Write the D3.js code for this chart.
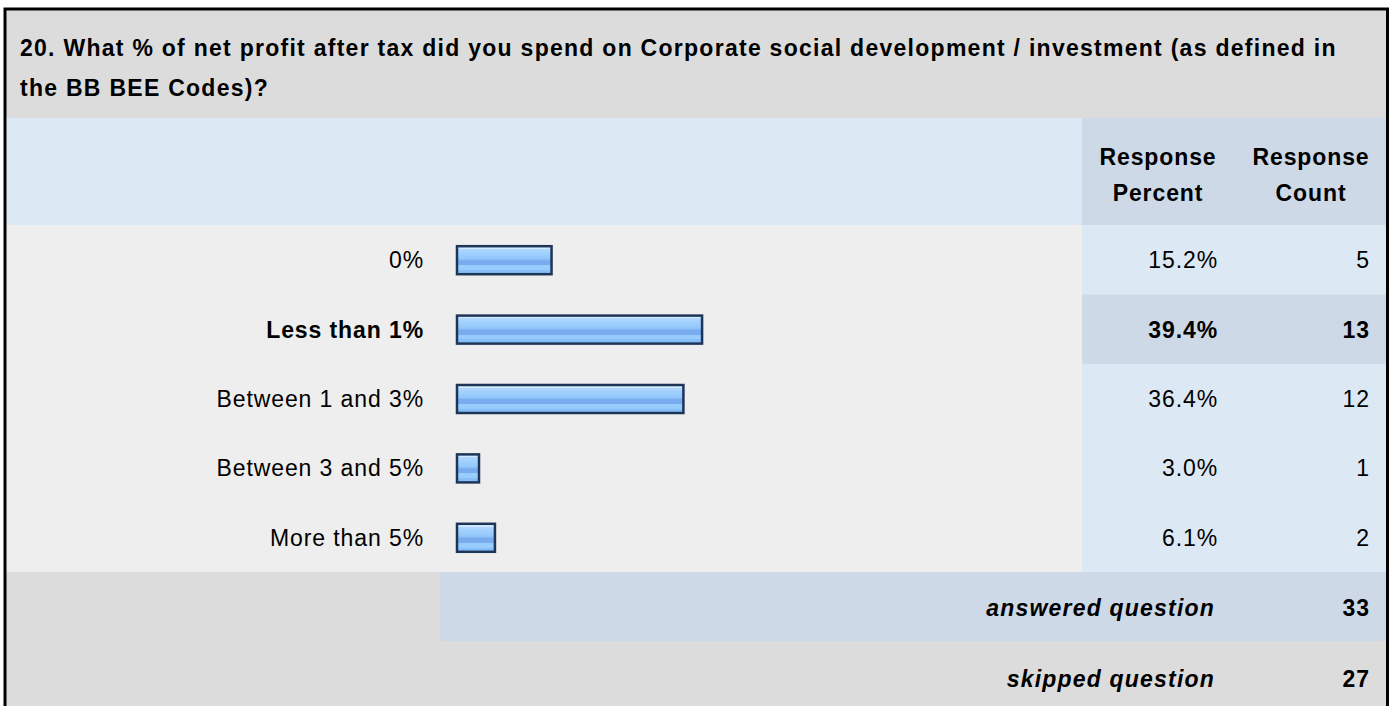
<!DOCTYPE html>
<html><head><meta charset="utf-8">
<script src="https://cdn.jsdelivr.net/npm/d3@7"></script>
<style>body{margin:0;background:#fff;}svg{display:block;font-family:"Liberation Sans",Arial,sans-serif;}</style>
</head><body>
<script>
const titleLines = ["20. What % of net profit after tax did you spend on Corporate social development / investment (as defined in", "the BB BEE Codes)?"];
const categories = ["0%", "Less than 1%", "Between 1 and 3%", "Between 3 and 5%", "More than 5%"];
const percents = [15.2, 39.4, 36.4, 3.0, 6.1];
const counts = [5, 13, 12, 1, 2];
const highlighted = [false, true, false, false, false];
const answered = 33, skipped = 27;

const W = 1394, H = 706;
const FS = 23, LS = 0.9;
const svg = d3.select("body").append("svg").attr("width", W).attr("height", H);
const L = 6, R = 1386, T = 10;
const defs = svg.append("defs");
const g = defs.append("linearGradient").attr("id","barg").attr("x1",0).attr("x2",0).attr("y1",0).attr("y2",1);
[[0,"#d2eaff"],[0.1,"#d2eaff"],[0.1,"#b0d8fe"],[0.3,"#9ccdfd"],[0.45,"#92c6fb"],[0.52,"#78acee"],[0.68,"#78acee"],[0.68,"#98ccfd"],[0.85,"#98ccfd"],[0.85,"#86bef8"],[1,"#86bef8"]].forEach(s=>g.append("stop").attr("offset",s[0]).attr("stop-color",s[1]));

function txt(sel){ return sel.attr("font-size",FS).attr("letter-spacing",LS).attr("fill","#000"); }

// title
svg.append("rect").attr("x",L).attr("y",T).attr("width",R-L).attr("height",108).attr("fill","#dcdcdc");
txt(svg.append("g").selectAll("text").data(titleLines).join("text"))
  .attr("x",20).attr("y",(d,i)=>56+i*40).attr("font-weight","bold").attr("letter-spacing",1.27).text(d=>d);

// header
const colP = 1082;
svg.append("rect").attr("x",L).attr("y",118).attr("width",colP-L).attr("height",107).attr("fill","#dde8f5");
svg.append("rect").attr("x",colP).attr("y",118).attr("width",R-colP).attr("height",107).attr("fill","#cdd9e6");
const hdr = [["Response","Percent",1158],["Response","Count",1311]];
hdr.forEach(h=>{
  txt(svg.append("text")).attr("x",h[2]).attr("y",165).attr("text-anchor","middle").attr("font-weight","bold").text(h[0]);
  txt(svg.append("text")).attr("x",h[2]).attr("y",201).attr("text-anchor","middle").attr("font-weight","bold").text(h[1]);
});

// rows
const y = d3.scaleBand().domain(categories).range([225,572]);
const x = d3.scaleLinear().domain([0,100]).range([457,457+622]);
const rows = svg.append("g").selectAll("g").data(categories).join("g").attr("transform",d=>`translate(0,${y(d)})`);
rows.append("rect").attr("x",L).attr("width",colP-L).attr("height",y.bandwidth()+0.5).attr("fill","#eeeeee");
rows.append("rect").attr("x",colP).attr("width",R-colP).attr("height",y.bandwidth()+0.5).attr("fill",(d,i)=>highlighted[i]?"#cdd9e6":"#dde8f5");
txt(rows.append("text")).attr("x",424).attr("y",y.bandwidth()/2+8.5).attr("text-anchor","end")
  .attr("font-weight",(d,i)=>highlighted[i]?"bold":"normal").text(d=>d);
rows.append("rect").attr("x",x(0)).attr("y",y.bandwidth()/2-13.5).attr("height",28)
  .attr("width",(d,i)=>Math.max(x(percents[i])-x(0),22)).attr("fill","url(#barg)").attr("stroke","#1d3557").attr("stroke-width",2.5);
txt(rows.append("text")).attr("x",1218).attr("y",y.bandwidth()/2+8.5).attr("text-anchor","end")
  .attr("font-weight",(d,i)=>highlighted[i]?"bold":"normal").text((d,i)=>percents[i].toFixed(1)+"%");
txt(rows.append("text")).attr("x",1370).attr("y",y.bandwidth()/2+8.5).attr("text-anchor","end")
  .attr("font-weight",(d,i)=>highlighted[i]?"bold":"normal").text((d,i)=>counts[i]);

// footer
svg.append("rect").attr("x",L).attr("y",572).attr("width",R-L).attr("height",140).attr("fill","#dcdcdc");
svg.append("rect").attr("x",440).attr("y",572).attr("width",R-440).attr("height",69).attr("fill","#cdd9e6");
[["answered question",answered,616],["skipped question",skipped,687]].forEach(f=>{
  txt(svg.append("text")).attr("x",1215).attr("y",f[2]).attr("text-anchor","end").attr("font-weight","bold").attr("font-style","italic").attr("letter-spacing",1.2).text(f[0]);
  txt(svg.append("text")).attr("x",1370).attr("y",f[2]).attr("text-anchor","end").attr("font-weight","bold").text(f[1]);
});

// outer border
svg.append("path").attr("d",`M${L-1},${H+5}V${T-1}H${R+1.5}V${H+5}`).attr("fill","none").attr("stroke","#000").attr("stroke-width",3);
</script>
</body></html>
